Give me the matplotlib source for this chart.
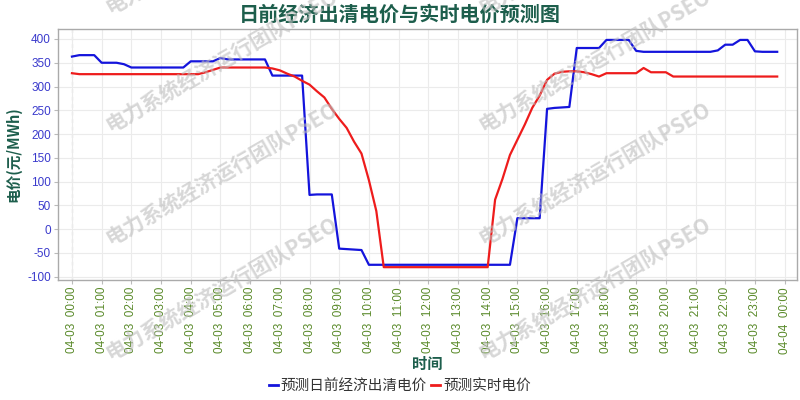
import matplotlib
matplotlib.use("Agg")
import matplotlib.pyplot as plt
from matplotlib.lines import Line2D

plt.rcParams['font.family'] = ['Noto Sans CJK SC', 'DejaVu Sans']

# 15-minute steps, 04-03 00:00 .. 23:45
day_ahead = [363, 366, 366, 366, 350, 350, 350, 347,
             340, 340, 340, 340, 340, 340, 340, 340,
             353, 353, 353, 353, 360, 357, 357, 357,
             357, 357, 357, 323, 323, 323, 323, 323,
             72, 73, 73, 73, -41, -42, -43, -44,
             -75, -75, -75, -75, -75, -75, -75, -75,
             -75, -75, -75, -75, -75, -75, -75, -75,
             -75, -75, -75, -75, 23, 23, 23, 23,
             253, 255, 256, 257, 381, 381, 381, 381,
             398, 398, 398, 398, 375, 373, 373, 373,
             373, 373, 373, 373, 373, 373, 373, 376,
             388, 388, 398, 398, 374, 373, 373, 373]

realtime = [328, 326, 326, 326, 326, 326, 326, 326,
            326, 326, 326, 326, 326, 326, 326, 326,
            326, 326, 330, 335, 340, 340, 340, 340,
            340, 340, 340, 338, 334, 327, 321, 312,
            304, 290, 277, 253, 232, 213, 184, 159,
            103, 38, -80, -80, -80, -80, -80, -80,
            -80, -80, -80, -80, -80, -80, -80, -80,
            -80, 62, 106, 156, 188, 220, 255, 281,
            314, 327, 331, 332, 332, 330, 326, 321,
            328, 328, 328, 328, 328, 339, 330, 330,
            330, 321, 321, 321, 321, 321, 321, 321,
            321, 321, 321, 321, 321, 321, 321, 321]

hours = [i * 0.25 for i in range(len(day_ahead))]
tick_hours = list(range(25))
tick_labels = [f"04-03  {h:02d}:00" for h in range(24)] + ["04-04  00:00"]
y_ticks = list(range(-100, 401, 50))

title = "日前经济出清电价与实时电价预测图"
series_names = ["预测日前经济出清电价", "预测实时电价"]
watermark = "电力系统经济运行团队PSEO"

dark_green = '#1d5e4c'
blue = '#1414dc'
red = '#ee1c1c'

fig = plt.figure(figsize=(8, 4), dpi=100)
ax = fig.add_axes([0.0725, 0.30, 0.9235, 0.6275])

ax.plot(hours, day_ahead, color=blue, lw=1.6, zorder=3)
ax.plot(hours, realtime, color=red, lw=1.6, zorder=3)
ax.axvline(0, color='#c8c8c8', lw=0.9, ls=(0, (3, 3)), zorder=1)

ax.set_xlim(-0.47, 24.41)
ax.set_ylim(-107, 421)
ax.set_xticks(tick_hours)
ax.set_xticklabels(tick_labels, rotation=90, color='#5a8a2a',
                   fontsize=8.5, family=['Liberation Sans', 'DejaVu Sans'])
ax.set_yticks(y_ticks)
ax.set_yticklabels([str(v) for v in y_ticks], color='#3a3acc',
                   fontsize=8.5, family=['Liberation Sans', 'DejaVu Sans'])
ax.tick_params(axis='both', length=3, color='#bbbbbb', pad=2)
ax.grid(True, color='#ebebeb', lw=0.8, zorder=0)
for s in ax.spines.values():
    s.set_color('#aaaaaa')
    s.set_linewidth(1.0)

ax.set_ylabel("电价(元/MWh)", color=dark_green, fontsize=10.5,
              fontweight='bold', labelpad=4)
ax.set_xlabel("时间", color=dark_green, fontsize=11, fontweight='bold',
              labelpad=2)
fig.text(0.5, 0.965, title, ha='center', va='center', color=dark_green,
         fontsize=14.5, fontweight='bold')

handles = [Line2D([], [], color=blue, lw=2), Line2D([], [], color=red, lw=2)]
fig.legend(handles, series_names, loc='center', bbox_to_anchor=(0.5, 0.035),
           ncol=2, frameon=False, fontsize=10.5, handlelength=0.6,
           handletextpad=0.2, columnspacing=0.3, labelcolor='#333333')

for xs in (110, 483):
    for ys in (14, 132, 245, 360):
        fig.text(xs / 800, 1 - ys / 400, watermark, rotation=30,
                 rotation_mode='anchor', ha='left', va='baseline',
                 fontsize=15, fontweight='bold', color='#bdbdbd',
                 alpha=0.6, zorder=10)

fig.savefig("out.png", dpi=100)
